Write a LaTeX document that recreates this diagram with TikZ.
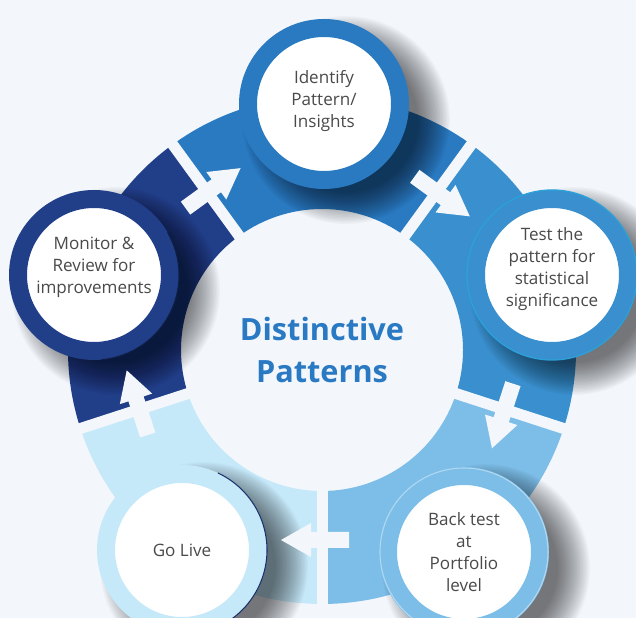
\documentclass[tikz,border=0pt]{standalone}
\usepackage{fontspec}
\setmainfont{Open Sans}
\usepackage{xcolor}
\usetikzlibrary{calc}
\definecolor{pagebg}{HTML}{F3F7FC}
\definecolor{segidentify}{HTML}{2A7AC2}
\definecolor{segtest}{HTML}{3A8FCE}
\definecolor{segback}{HTML}{7DBEE8}
\definecolor{seglive}{HTML}{C6E9F9}
\definecolor{segmonitor}{HTML}{213E89}
\definecolor{labelgrey}{HTML}{4A4A4A}
\definecolor{titleblue}{HTML}{2A79C3}

\tikzset{
  gapline/.style={draw=pagebg, line width=8.25pt},
  flowarrow/.style={fill=pagebg},
  softshade/.style={fill=black, opacity=0.026},
  stepdisc/.style={circle, fill=white, inner sep=0pt, minimum size=114pt, line width=13.5pt},
  steptext/.style={align=center, text=labelgrey, font=\fontsize{12.8}{16.5}\selectfont},
  titletext/.style={align=center, text=titleblue, font=\fontsize{23}{32}\selectfont\bfseries}
}

\begin{document}
\begin{tikzpicture}[x=0.75pt, y=0.75pt]
    % Fond clair
    \fill[pagebg] (0,0) rectangle (636,618);
    \useasboundingbox (0,0) rectangle (636,618);
    \clip (0,0) rectangle (636,618);
    \coordinate (ctr) at (322,268);

    % Segments de l'anneau
    \fill[segidentify] ($(ctr)+(54:254)$) arc[start angle=54, end angle=126, radius=254] -- ($(ctr)+(126:141)$) arc[start angle=126, end angle=54, radius=141] -- cycle;
    \fill[segtest] ($(ctr)+(-18:254)$) arc[start angle=-18, end angle=54, radius=254] -- ($(ctr)+(54:141)$) arc[start angle=54, end angle=-18, radius=141] -- cycle;
    \fill[segback] ($(ctr)+(270:254)$) arc[start angle=270, end angle=342, radius=254] -- ($(ctr)+(342:141)$) arc[start angle=342, end angle=270, radius=141] -- cycle;
    \fill[seglive] ($(ctr)+(198:254)$) arc[start angle=198, end angle=270, radius=254] -- ($(ctr)+(270:141)$) arc[start angle=270, end angle=198, radius=141] -- cycle;
    \fill[segmonitor] ($(ctr)+(126:254)$) arc[start angle=126, end angle=198, radius=254] -- ($(ctr)+(198:141)$) arc[start angle=198, end angle=126, radius=141] -- cycle;

    % Espaces entre les segments
    \draw[gapline] ($(ctr)+(270:130)$) -- ($(ctr)+(270:266)$);
    \draw[gapline] ($(ctr)+(198:130)$) -- ($(ctr)+(198:266)$);
    \draw[gapline] ($(ctr)+(126:130)$) -- ($(ctr)+(126:266)$);
    \draw[gapline] ($(ctr)+(54:130)$) -- ($(ctr)+(54:266)$);
    \draw[gapline] ($(ctr)+(-18:130)$) -- ($(ctr)+(-18:266)$);

    % Ombres des cercles (vers le bas a droite)
    \foreach \k in {0,...,23} {
        \fill[softshade] (346,498) circle ({104-1.4*\k});
        \fill[softshade] (574,327) circle ({104-1.4*\k});
        \fill[softshade] (486,50) circle ({104-1.4*\k});
        \fill[softshade] (204,52) circle ({104-1.4*\k});
        \fill[softshade] (116,327) circle ({104-1.4*\k});
    }

    % Flèches dans les espaces
    \begin{scope}[shift={($(ctr)+(270:190)$)}, rotate=180]
        \fill[flowarrow] (-27,-8) -- (11,-8) -- (11,-17) -- (41,0) -- (11,17) -- (11,8) -- (-27,8) -- cycle;
    \end{scope}
    \begin{scope}[shift={($(ctr)+(198:192)$)}, rotate=108]
        \fill[flowarrow] (-27,-8) -- (11,-8) -- (11,-17) -- (41,0) -- (11,17) -- (11,8) -- (-27,8) -- cycle;
    \end{scope}
    \begin{scope}[shift={($(ctr)+(126:195)$)}, rotate=36]
        \fill[flowarrow] (-27,-8) -- (11,-8) -- (11,-17) -- (41,0) -- (11,17) -- (11,8) -- (-27,8) -- cycle;
    \end{scope}
    \begin{scope}[shift={($(ctr)+(54:195)$)}, rotate=-36]
        \fill[flowarrow] (-27,-8) -- (11,-8) -- (11,-17) -- (41,0) -- (11,17) -- (11,8) -- (-27,8) -- cycle;
    \end{scope}
    \begin{scope}[shift={($(ctr)+(-18:192)$)}, rotate=-108]
        \fill[flowarrow] (-27,-8) -- (11,-8) -- (11,-17) -- (41,0) -- (11,17) -- (11,8) -- (-27,8) -- cycle;
    \end{scope}

    % Cercles des étapes
    \node[stepdisc, draw=segidentify] (identify) at (324,514) {};
    \node[stepdisc, draw=segtest] (test) at (552,343) {};
    \node[stepdisc, draw=segback] (back) at (464,66) {};
    \node[stepdisc, draw=seglive] (live) at (182,68) {};
    \node[stepdisc, draw=segmonitor] (monitor) at (94,343) {};

    % Liserés
    \draw[line width=1pt, color=cyan!60!segtest] (test.center) circle (85);
    \draw[line width=0.8pt, color=segback!60!white] (back.center) circle (84);
    \draw[line width=0.8pt, color=segmonitor!80!black] ($(live.center)+(-70:85)$) arc[start angle=-70, end angle=65, radius=85];
    \draw[line width=0.8pt, color=segmonitor!50!black] ($(monitor.center)+(-85:85)$) arc[start angle=-85, end angle=30, radius=85];

    % Textes
    \node[steptext] (identifylbl) at ($(identify)+(0,3)$) {Identify\\Pattern/\\Insights};
    \node[steptext] (testlbl) at ($(test)+(0,6)$) {Test the\\pattern for\\statistical\\significance};
    \node[steptext] (backlbl) at (back) {Back test\\at\\Portfolio\\level};
    \node[steptext] (livelbl) at (live) {Go Live};
    \node[steptext] (monitorlbl) at ($(monitor)+(0,8)$) {Monitor \&\\Review for\\improvements};

    % Titre central
    \node[titletext] (title) at (ctr) {Distinctive\\Patterns};
\end{tikzpicture}
\end{document}
